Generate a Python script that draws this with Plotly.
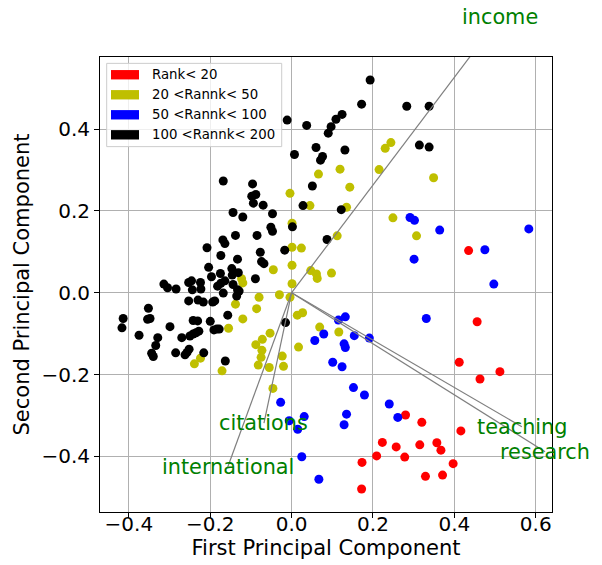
import plotly.graph_objects as go

# ---- PCA scores, grouped by rank band ----
top20_x = [0.435, 0.456, 0.412, 0.463, 0.512, 0.280, 0.320, 0.416, 0.223, 0.257,
           0.315, 0.357, 0.367, 0.209, 0.278, 0.397, 0.173, 0.329, 0.371, 0.172]
top20_y = [0.103, -0.071, -0.170, -0.211, -0.193, -0.299, -0.317, -0.338, -0.366, -0.377,
           -0.372, -0.367, -0.385, -0.399, -0.402, -0.418, -0.415, -0.449, -0.446, -0.480]

r20_50_x = [0.244, 0.230, 0.215, 0.349, 0.119, 0.066, 0.143, -0.004, 0.045, 0.135,
            0.249, 0.307, 0.001, 0.112, 0.001, 0.024, 0.001, -0.045, 0.047, 0.061,
            0.063, 0.098, 0.001, -0.123, -0.120, -0.030, -0.004, -0.080, -0.138, -0.086,
            0.014, 0.027, -0.120, 0.069, 0.116, -0.155, -0.053, -0.072, -0.088, -0.073,
            -0.075, 0.017, -0.023, -0.082, -0.055, -0.020, -0.224, -0.239, -0.171, -0.046]
r20_50_y = [0.367, 0.353, 0.301, 0.281, 0.302, 0.290, 0.258, 0.243, 0.213, 0.209,
            0.183, 0.139, 0.170, 0.139, 0.111, 0.109, 0.067, 0.056, 0.054, 0.046,
            0.035, 0.048, 0.022, 0.034, 0.024, -0.005, -0.011, -0.011, -0.028, -0.039,
            -0.055, -0.049, -0.064, -0.084, -0.096, -0.087, -0.099, -0.114, -0.127, -0.141,
            -0.158, -0.133, -0.155, -0.177, -0.183, -0.180, -0.160, -0.174, -0.191, -0.234]

r50_100_x = [0.291, 0.302, 0.364, 0.583, 0.475, 0.301, 0.497, 0.331, 0.115, 0.132,
             0.079, 0.057, 0.154, 0.191, 0.129, 0.132, 0.101, 0.124, 0.152, 0.179,
             0.240, 0.261, 0.135, 0.129, -0.027, -0.006, 0.031, 0.015, 0.025, 0.067]
r50_100_y = [0.184, 0.177, 0.153, 0.156, 0.105, 0.082, 0.021, -0.063, -0.067, -0.059,
             -0.101, -0.117, -0.105, -0.111, -0.125, -0.134, -0.170, -0.181, -0.232, -0.250,
             -0.272, -0.305, -0.297, -0.323, -0.268, -0.313, -0.303, -0.334, -0.401, -0.456]

r100_200_x = [0.193, 0.172, 0.283, 0.338, -0.011, 0.037, 0.124, 0.109, 0.097, 0.090,
              0.007, 0.060, 0.131, 0.076, 0.071, 0.314, 0.338, -0.168, -0.096, 0.051,
              -0.098, -0.088, -0.094, -0.070, 0.028, 0.122, -0.144, -0.120, -0.047, 0.002,
              -0.051, -0.047, -0.138, -0.085, -0.169, -0.164, 0.087, -0.208, -0.017, -0.077,
              -0.174, -0.133, -0.074, -0.068, -0.204, -0.175, -0.147, -0.131, -0.146, -0.197,
              -0.089, -0.314, -0.305, -0.284, -0.253, -0.246, -0.224, -0.244, -0.223, -0.182,
              -0.174, -0.164, -0.144, -0.133, -0.129, -0.168, -0.135, -0.253, -0.230, -0.217,
              -0.194, -0.189, -0.352, -0.414, -0.417, -0.354, -0.348, -0.242, -0.231, -0.200,
              -0.157, -0.015, -0.375, -0.329, -0.299, -0.334, -0.270, -0.250, -0.242, -0.235,
              -0.228, -0.191, -0.184, -0.178, -0.344, -0.340, -0.285, -0.262, -0.257, -0.252,
              -0.216, -0.163]
r100_200_y = [0.520, 0.461, 0.456, 0.456, 0.422, 0.409, 0.436, 0.424, 0.406, 0.390,
              0.338, 0.355, 0.349, 0.333, 0.324, 0.361, 0.356, 0.273, 0.266, 0.261,
              0.236, 0.240, 0.219, 0.214, 0.213, 0.203, 0.196, 0.185, 0.193, 0.161,
              0.160, 0.150, 0.140, 0.140, 0.129, 0.120, 0.130, 0.110, 0.104, 0.099,
              0.091, 0.082, 0.076, 0.071, 0.062, 0.047, 0.059, 0.049, 0.043, 0.039,
              0.034, 0.021, 0.012, 0.009, 0.025, 0.029, 0.025, 0.007, 0.009, 0.016,
              0.023, 0.029, 0.020, 0.007, 0.004, -0.001, -0.008, -0.020, -0.018, -0.023,
              -0.023, -0.020, -0.038, -0.063, -0.086, -0.065, -0.063, -0.068, -0.069, -0.070,
              -0.055, -0.073, -0.104, -0.110, -0.083, -0.129, -0.110, -0.106, -0.101, -0.098,
              -0.094, -0.091, -0.089, -0.089, -0.148, -0.156, -0.147, -0.152, -0.146, -0.138,
              -0.147, -0.167]

# ---- feature loadings (arrow tips) ----
features = ["income", "teaching", "research", "citations", "international"]
load_x = [0.512, 0.566, 0.623, -0.068, -0.157]
load_y = [0.674, -0.328, -0.389, -0.319, -0.426]

groups = [
    ("Rank< 20", "#ff0000", top20_x, top20_y),
    ("20 <Rannk< 50", "#bfbf00", r20_50_x, r20_50_y),
    ("50 <Rannk< 100", "#0000ff", r50_100_x, r50_100_y),
    ("100 <Rannk< 200", "#000000", r100_200_x, r100_200_y),
]

X_RANGE = [-0.471, 0.640]
Y_RANGE = [-0.5362, 0.5763]

FONT = "DejaVu Sans"
fig = go.Figure()

for name, color, xs, ys in groups:
    fig.add_trace(go.Scatter(
        x=xs, y=ys, mode="markers", name=name, showlegend=False,
        marker=dict(color=color, size=9, line=dict(width=0)),
    ))

for fx, fy in zip(load_x, load_y):
    fig.add_trace(go.Scatter(
        x=[0, fx], y=[0, fy], mode="lines", showlegend=False,
        line=dict(color="#7f7f7f", width=1.2), hoverinfo="skip",
    ))


def to_paper(v, rng):
    return (v - rng[0]) / (rng[1] - rng[0])


annotations = []
for name, fx, fy in zip(features, load_x, load_y):
    # labels may sit outside the axes box, so place them in paper space
    annotations.append(dict(
        x=to_paper(fx, X_RANGE), y=to_paper(fy, Y_RANGE),
        xref="paper", yref="paper", text=name, showarrow=False,
        xanchor="center", yanchor="middle",
        font=dict(family=FONT, size=20.8, color="#008000"),
    ))

# legend box drawn with patches, positioned in paper space
shapes = [dict(
    type="rect", xref="paper", yref="paper",
    x0=0.0148, x1=0.402, y0=0.803, y1=0.986,
    line=dict(color="#cccccc", width=1), fillcolor="rgba(255,255,255,0.8)",
    layer="above",
)]
row_y = [0.961, 0.917, 0.873, 0.829]
for (name, color, _, _), ry in zip(groups, row_y):
    shapes.append(dict(
        type="rect", xref="paper", yref="paper",
        x0=0.0243, x1=0.0863, y0=ry - 0.0103, y1=ry + 0.0103,
        line=dict(width=0), fillcolor=color, layer="above",
    ))
    annotations.append(dict(
        x=0.1106, y=ry, xref="paper", yref="paper", text=name, showarrow=False,
        xanchor="left", yanchor="middle",
        font=dict(family=FONT, size=13.3, color="#000000"),
    ))

axis_common = dict(
    showgrid=True, gridcolor="#b0b0b0", gridwidth=1,
    zeroline=False, showline=True, linecolor="#000000", linewidth=1,
    mirror=True, ticks="outside", ticklen=5, tickwidth=1, tickcolor="#000000",
    tickfont=dict(family=FONT, size=20, color="#000000"),
    tickformat=".1f", automargin=False,
)

fig.update_layout(
    width=602, height=565,
    margin=dict(l=100, r=50, t=57, b=53),
    paper_bgcolor="white", plot_bgcolor="white",
    font=dict(family=FONT, color="#000000"),
    xaxis=dict(
        range=X_RANGE, tickvals=[-0.4, -0.2, 0.0, 0.2, 0.4, 0.6],
        ticklabelstandoff=-11,
        title=dict(text="First Principal Component", font=dict(family=FONT, size=21), standoff=4),
        **axis_common,
    ),
    yaxis=dict(
        range=Y_RANGE, tickvals=[-0.4, -0.2, 0.0, 0.2, 0.4],
        title=dict(text="Second Principal Component", font=dict(family=FONT, size=21), standoff=6),
        **axis_common,
    ),
    annotations=annotations,
    shapes=shapes,
)

fig.write_html("out.html")
